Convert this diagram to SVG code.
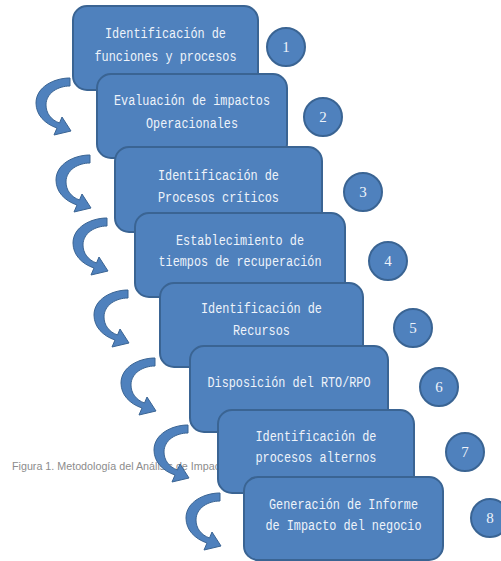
<svg xmlns="http://www.w3.org/2000/svg" xmlns:xlink="http://www.w3.org/1999/xlink" width="501" height="561" viewBox="0 0 501 561">
  <style>
    .box { fill: #4f81bd; stroke: #3a6493; stroke-width: 2; }
    .num { fill: #4f81bd; stroke: #3a6493; stroke-width: 2; }
    .lbl { font-family: "Liberation Mono", "DejaVu Sans Mono", monospace; font-size: 15.5px; fill: #eef3fa; text-anchor: middle; }
    .dig { font-family: "Liberation Serif", "DejaVu Serif", serif; font-size: 15px; fill: #eef3fa; text-anchor: middle; }
    .cap { font-family: "Liberation Sans", Arial, sans-serif; font-size: 11px; fill: #8c8c8c; }
    .arr { fill: #4f81bd; stroke: #3a6493; stroke-width: 1; stroke-linejoin: round; }
  </style>
  <defs>
    <!-- curved block arrow, origin at the top-right of its tail -->
    <path id="curl" class="arr" d="M 0,0 C -16,0 -34,9 -34,25 C -34,37 -25,46 -13,50 L -16,57 L 1,53 L -8,39 L -10.5,45 C -19,42 -24,35 -24,27 C -24,15 -12,8 0,8 Z"/>
  </defs>

  <text class="cap" x="12" y="470" textLength="208" lengthAdjust="spacingAndGlyphs">Figura 1. Metodología del Análisis de Impac</text>

  <g id="connectors">
    <use xlink:href="#curl" x="70" y="78"/>
    <use xlink:href="#curl" x="90" y="155"/>
    <use xlink:href="#curl" x="107" y="218"/>
    <use xlink:href="#curl" x="128" y="290"/>
    <use xlink:href="#curl" x="155" y="358"/>
    <use xlink:href="#curl" x="188" y="425"/>
    <use xlink:href="#curl" x="220" y="493"/>
  </g>

  <g id="step1">
    <rect class="box" x="73" y="6" width="185" height="84" rx="14"/>
    <text class="lbl" x="165.5" y="38" textLength="121" lengthAdjust="spacingAndGlyphs">Identificación de</text>
    <text class="lbl" x="165.5" y="61" textLength="142" lengthAdjust="spacingAndGlyphs">funciones y procesos</text>
  </g>
  <g id="step2">
    <rect class="box" x="97" y="74" width="190" height="84" rx="14"/>
    <text class="lbl" x="192" y="105" textLength="156" lengthAdjust="spacingAndGlyphs">Evaluación de impactos</text>
    <text class="lbl" x="192" y="128" textLength="92" lengthAdjust="spacingAndGlyphs">Operacionales</text>
  </g>
  <g id="step3">
    <rect class="box" x="115" y="147" width="207" height="85" rx="14"/>
    <text class="lbl" x="218.5" y="180" textLength="121" lengthAdjust="spacingAndGlyphs">Identificación de</text>
    <text class="lbl" x="218.5" y="202" textLength="121" lengthAdjust="spacingAndGlyphs">Procesos críticos</text>
  </g>
  <g id="step4">
    <rect class="box" x="135" y="213" width="210" height="84" rx="14"/>
    <text class="lbl" x="240" y="245" textLength="128" lengthAdjust="spacingAndGlyphs">Establecimiento de</text>
    <text class="lbl" x="240" y="266" textLength="163" lengthAdjust="spacingAndGlyphs">tiempos de recuperación</text>
  </g>
  <g id="step5">
    <rect class="box" x="160" y="283" width="203" height="84" rx="14"/>
    <text class="lbl" x="261.5" y="313" textLength="121" lengthAdjust="spacingAndGlyphs">Identificación de</text>
    <text class="lbl" x="261.5" y="335" textLength="57" lengthAdjust="spacingAndGlyphs">Recursos</text>
  </g>
  <g id="step6">
    <rect class="box" x="190" y="346" width="198" height="86" rx="14"/>
    <text class="lbl" x="289" y="387" textLength="163" lengthAdjust="spacingAndGlyphs">Disposición del RTO/RPO</text>
  </g>
  <g id="step7">
    <rect class="box" x="218" y="410" width="196" height="83" rx="14"/>
    <text class="lbl" x="316" y="441" textLength="121" lengthAdjust="spacingAndGlyphs">Identificación de</text>
    <text class="lbl" x="316" y="462" textLength="121" lengthAdjust="spacingAndGlyphs">procesos alternos</text>
  </g>
  <g id="step8">
    <rect class="box" x="244" y="477" width="199" height="83" rx="14"/>
    <text class="lbl" x="343.5" y="509" textLength="149" lengthAdjust="spacingAndGlyphs">Generación de Informe</text>
    <text class="lbl" x="343.5" y="530" textLength="156" lengthAdjust="spacingAndGlyphs">de Impacto del negocio</text>
  </g>

  <g id="badge1"><circle class="num" cx="286" cy="47" r="19"/><text class="dig" x="286" y="52">1</text></g>
  <g id="badge2"><circle class="num" cx="323" cy="117" r="19"/><text class="dig" x="323" y="122">2</text></g>
  <g id="badge3"><circle class="num" cx="363" cy="192" r="19"/><text class="dig" x="363" y="197">3</text></g>
  <g id="badge4"><circle class="num" cx="388" cy="261" r="19"/><text class="dig" x="388" y="266">4</text></g>
  <g id="badge5"><circle class="num" cx="413" cy="328" r="19"/><text class="dig" x="413" y="333">5</text></g>
  <g id="badge6"><circle class="num" cx="439" cy="387" r="19"/><text class="dig" x="439" y="392">6</text></g>
  <g id="badge7"><circle class="num" cx="465" cy="452" r="19"/><text class="dig" x="465" y="457">7</text></g>
  <g id="badge8"><circle class="num" cx="490" cy="518" r="19"/><text class="dig" x="490" y="523">8</text></g>
</svg>
